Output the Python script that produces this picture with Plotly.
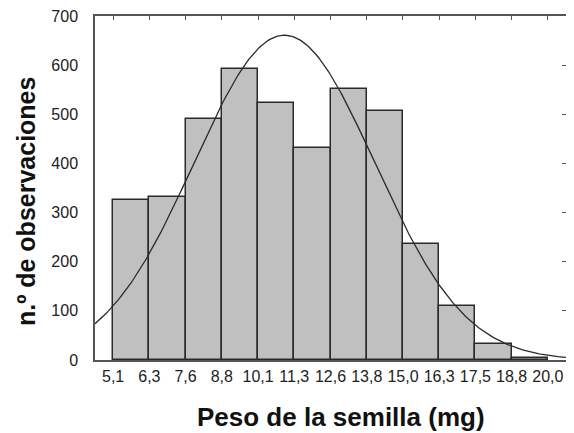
import numpy as np
import plotly.graph_objects as go

# Bin edges (mg) and their tick labels
bin_edges = [5.1, 6.342, 7.583, 8.825, 10.067, 11.308, 12.55, 13.792, 15.033, 16.275, 17.517, 18.758, 20.0]
tick_labels = ["5,1", "6,3", "7,6", "8,8", "10,1", "11,3", "12,6", "13,8", "15,0", "16,3", "17,5", "18,8", "20,0"]
# Observed counts per bin
counts = [326, 332, 490, 592, 522, 431, 552, 507, 237, 110, 33, 4]
# Fitted normal parameters
fit_mean = 10.97
fit_sd = 3.1

y_ticks = [0, 100, 200, 300, 400, 500, 600, 700]
x_title = "<b>Peso de la semilla (mg)</b>"
y_title = "<b>n.º de observaciones</b>"

centers = [(a + b) / 2 for a, b in zip(bin_edges[:-1], bin_edges[1:])]
widths = [b - a for a, b in zip(bin_edges[:-1], bin_edges[1:])]
bw = (bin_edges[-1] - bin_edges[0]) / len(counts)
x_lo = bin_edges[0] - bw / 2
x_hi = bin_edges[-1] + bw / 2

n_total = sum(counts)
xc = np.linspace(x_lo, x_hi, 300)
yc = n_total * bw / (fit_sd * np.sqrt(2 * np.pi)) * np.exp(-0.5 * ((xc - fit_mean) / fit_sd) ** 2)

fig = go.Figure()
fig.add_trace(go.Bar(
    x=centers, y=counts, width=widths,
    marker=dict(color="#c0c0c0", line=dict(color="#2a2a2a", width=1.5)),
    showlegend=False,
))
fig.add_trace(go.Scatter(
    x=xc, y=yc, mode="lines",
    line=dict(color="#2a2a2a", width=1.3),
    showlegend=False,
))
fig.add_trace(go.Scatter(x=[x_lo], y=[0], xaxis="x2", yaxis="y2", mode="markers",
                         marker=dict(opacity=0), showlegend=False, hoverinfo="skip"))

font_family = "Liberation Sans, Arial, sans-serif"
fig.update_layout(
    width=566, height=425,
    margin=dict(l=87, r=8, t=8, b=73, autoexpand=False),
    paper_bgcolor="white", plot_bgcolor="white",
    bargap=0,
    font=dict(family=font_family, color="#222222"),
    xaxis=dict(
        range=[x_lo, x_hi], tickvals=bin_edges, ticktext=tick_labels,
        showgrid=False, zeroline=False, ticks="", showline=True, automargin=False,
        linecolor="#555555", linewidth=1.5,
        tickfont=dict(size=16, color="#222222"),
        ticklabelstandoff=1, ticklabeloverflow="allow",
    ),
    yaxis=dict(
        range=[0, 700], tickvals=y_ticks,
        showgrid=False, zeroline=False, ticks="", showline=True, automargin=False,
        linecolor="#555555", linewidth=1.5,
        tickfont=dict(size=16, color="#222222"),
        ticklabelstandoff=12, ticklabeloverflow="allow",
    ),
    xaxis2=dict(
        overlaying="x", side="top", range=[x_lo, x_hi], tickvals=bin_edges,
        showticklabels=False, ticks="inside", ticklen=4, tickcolor="#555555", automargin=False,
        showline=True, linecolor="#555555", linewidth=1.5, showgrid=False, zeroline=False,
    ),
    yaxis2=dict(
        overlaying="y", side="right", range=[0, 700], tickvals=y_ticks,
        showticklabels=False, ticks="inside", ticklen=4, tickcolor="#555555", automargin=False,
        showline=True, linecolor="#555555", linewidth=1.5, showgrid=False, zeroline=False,
    ),
    annotations=[
        dict(text=x_title, xref="paper", yref="paper", x=0.5225, y=-0.166,
             xanchor="center", yanchor="middle", showarrow=False,
             font=dict(size=26, color="#111111", family=font_family)),
        dict(text=y_title, xref="paper", yref="paper", x=-0.1465, y=0.462,
             xanchor="center", yanchor="middle", showarrow=False, textangle=-90,
             font=dict(size=25, color="#111111", family=font_family)),
    ],
)

fig.write_html("out.html")
